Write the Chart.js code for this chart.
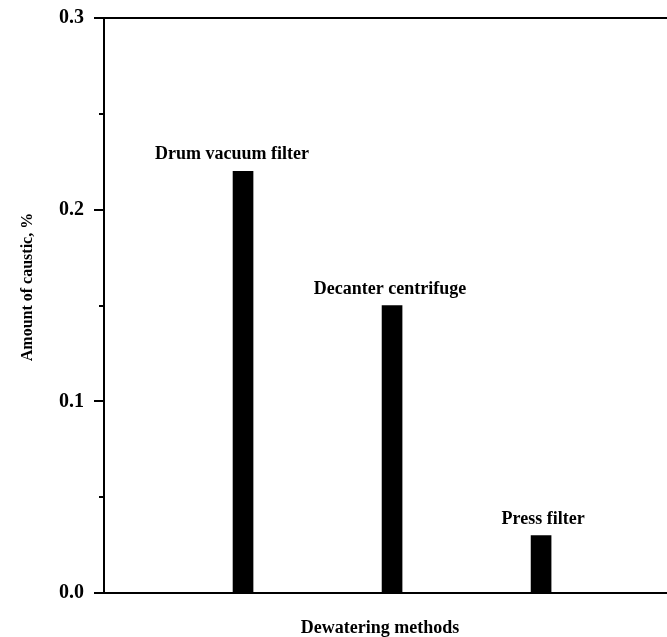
<!DOCTYPE html>
<html>
<head>
<meta charset="utf-8">
<style>
  html, body { margin: 0; padding: 0; background: #fff; }
  #wrap { width: 667px; height: 637px; position: relative; }
</style>
<script src="https://cdn.jsdelivr.net/npm/chart.js@4.4.1/dist/chart.umd.min.js"></script>
</head>
<body>
<div id="wrap"><canvas id="c" width="667" height="637"></canvas></div>
<script>
const categories = ["Drum vacuum filter", "Decanter centrifuge", "Press filter"];
const categoryPositions = [1, 2, 3];
const causticValues = [0.22, 0.15, 0.03];
const yMajorTicks = [0.0, 0.1, 0.2, 0.3];
const yMinorTicks = [0.05, 0.15, 0.25];
const xTitle = "Dewatering methods";
const yTitle = "Amount of caustic, %";

const FONT = "'Liberation Serif', 'Times New Roman', serif";

const extras = {
  id: 'extras',
  afterDraw(chart, args, opts) {
    const ctx = chart.ctx;
    const ys = chart.scales.y, xs = chart.scales.x;
    const area = chart.chartArea;
    ctx.save();
    ctx.strokeStyle = '#000';
    ctx.lineWidth = 2;
    // top frame line
    ctx.beginPath();
    ctx.moveTo(area.left - 10, area.top);
    ctx.lineTo(area.right, area.top);
    ctx.stroke();
    // minor ticks
    yMinorTicks.forEach(v => {
      const py = Math.round(ys.getPixelForValue(v));
      ctx.beginPath();
      ctx.moveTo(area.left - 5, py);
      ctx.lineTo(area.left, py);
      ctx.stroke();
    });
    // bar labels
    ctx.fillStyle = '#000';
    ctx.font = "bold 18px " + FONT;
    ctx.textAlign = 'center';
    ctx.textBaseline = 'alphabetic';
    categories.forEach((name, i) => {
      const px = xs.getPixelForValue(categoryPositions[i]) + (opts.labelDx[i] || 0);
      const py = ys.getPixelForValue(causticValues[i]) - 12;
      ctx.fillText(name, px, py);
    });
    // axis titles
    ctx.fillText(xTitle, 380, 633);
    ctx.font = "bold 16px " + FONT;
    ctx.save();
    ctx.translate(32, 287);
    ctx.rotate(-Math.PI / 2);
    ctx.fillText(yTitle, 0, 0);
    ctx.restore();
    ctx.restore();
  }
};

new Chart(document.getElementById('c'), {
  type: 'bar',
  data: {
    datasets: [{
      data: categoryPositions.map((x, i) => ({ x: x, y: causticValues[i] })),
      backgroundColor: '#000',
      borderWidth: 0,
      barThickness: 20
    }]
  },
  options: {
    responsive: false,
    animation: false,
    events: [],
    layout: { padding: { top: 18, right: 0, left: 0, bottom: 0 } },
    plugins: {
      legend: { display: false },
      tooltip: { enabled: false },
      extras: { labelDx: [-11, -2, 2] }
    },
    scales: {
      x: {
        type: 'linear',
        offset: false,
        min: 0.067,
        max: 3.845,
        ticks: { display: false },
        grid: { display: false, drawTicks: false, offset: false },
        border: { display: true, color: '#000', width: 2 },
        afterFit: s => { s.height = 44; }
      },
      y: {
        type: 'linear',
        min: 0,
        max: 0.3,
        afterBuildTicks: s => { s.ticks = yMajorTicks.map(v => ({ value: v })); },
        ticks: {
          color: '#000',
          font: { family: FONT, size: 20, weight: 'bold' },
          padding: 10,
          callback: v => v.toFixed(1)
        },
        grid: {
          drawOnChartArea: false,
          drawTicks: true,
          tickLength: 10,
          color: '#000',
          lineWidth: 2
        },
        border: { display: true, color: '#000', width: 2 },
        afterFit: s => { s.width = 104; s.paddingTop = 0; s.paddingBottom = 0; }
      }
    }
  },
  plugins: [extras]
});
</script>
</body>
</html>
